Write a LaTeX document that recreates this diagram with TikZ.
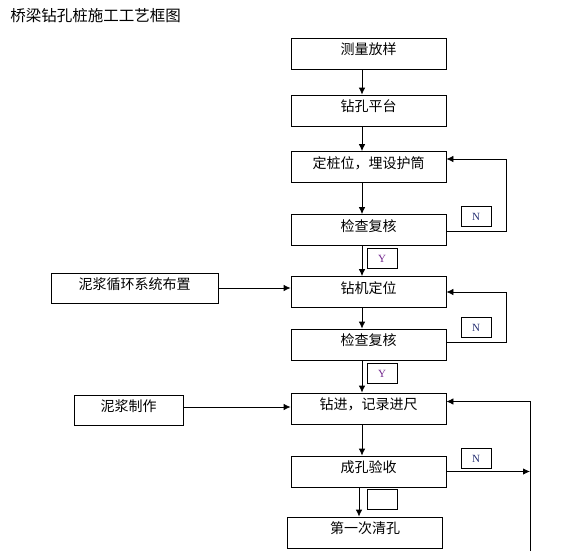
\documentclass[tikz,border=0pt]{standalone}
\usepackage{fontspec}
\setmainfont{Noto Sans CJK SC}
\newfontfamily\tagfont{Liberation Serif}
\usepackage{xcolor}
\usetikzlibrary{calc,arrows.meta}
\definecolor{yescolor}{RGB}{112,36,140}
\definecolor{nocolor}{RGB}{34,44,112}
\tikzstyle{stage}=[draw, minimum width=155pt, minimum height=31pt, inner sep=0pt, text height=10pt, text depth=8pt, font=\fontsize{14}{14}\selectfont]
\tikzstyle{side}=[draw, minimum height=30pt, inner sep=0pt, text height=10pt, text depth=8pt, font=\fontsize{14}{14}\selectfont]
\tikzstyle{tag}=[draw, minimum width=30pt, minimum height=20pt, inner sep=0pt, font=\tagfont\fontsize{11}{11}\selectfont]
\tikzset{flow/.style={-{Latex[length=7pt,width=6.5pt]}, line width=.8pt}}
\tikzset{y=-1pt}
\tikzset{x=1pt}

\begin{document}
\begin{tikzpicture}[line width=.8pt]
  \useasboundingbox (0,0) rectangle (567,551);
  \draw (10,16) node[anchor=west,inner sep=0pt,font=\fontsize{15.5}{15.5}\selectfont] (title) {桥梁钻孔桩施工工艺框图};

  %% main column
  \draw (368.5,53.5) node[stage] (B1) {测量放样};
  \draw (368.5,110.5) node[stage] (B2) {钻孔平台};
  \draw (368.5,167) node[stage] (B3) {定桩位，埋设护筒};
  \draw (368.5,230) node[stage] (B4) {检查复核};
  \draw (368.5,292) node[stage] (B5) {钻机定位};
  \draw (368.5,344.5) node[stage] (B6) {检查复核};
  \draw (368.5,408.5) node[stage] (B7) {钻进，记录进尺};
  \draw (368.5,471.5) node[stage] (B8) {成孔验收};
  \draw (365,532.5) node[stage] (B9) {第一次清孔};

  %% side inputs
  \draw (134.5,288) node[side,minimum width=167pt] (L1) {泥浆循环系统布置};
  \draw (128.5,410.5) node[side,minimum width=109pt] (L2) {泥浆制作};

  %% Y / N tags
  \draw (476,216.5) node[tag,text=nocolor] (N1) {N};
  \draw (382,258.5) node[tag,text=yescolor] (Y1) {Y};
  \draw (476,327.5) node[tag,text=nocolor] (N2) {N};
  \draw (382,373.5) node[tag,text=yescolor] (Y2) {Y};
  \draw (476,458.5) node[tag,text=nocolor] (N3) {N};
  \draw (382,499.5) node[tag] (T3) {};

  \coordinate (axis) at (362,0);
  \coordinate (axisb) at (359,0);
  \coordinate (loop) at (506.7,0);
  \coordinate (back) at (530,0);
  \coordinate (foot) at (530,551);

  %% straight flow
  \draw[flow] (B1.south -| axis) -- (B2.north -| axis);
  \draw[flow] (B2.south -| axis) -- (B3.north -| axis);
  \draw[flow] (B3.south -| axis) -- (B4.north -| axis);
  \draw[flow] (B4.south -| axis) -- (B5.north -| axis);
  \draw[flow] (B5.south -| axis) -- (B6.north -| axis);
  \draw[flow] (B6.south -| axis) -- (B7.north -| axis);
  \draw[flow] (B7.south -| axis) -- (B8.north -| axis);
  \draw[flow] (B8.south -| axisb) -- (B9.north -| axisb);

  \draw[flow] (L1.east) -- (L1.east -| B5.west);
  \draw[flow] ($(L2.east)+(0,-3.5)$) -- ($(L2.east -| B7.west)+(0,-3.5)$);

  %% checks going back
  \draw[flow] ($(B4.east)+(0,1.7)$) -| ($(B3.east -| loop)+(0,-8)$) -- ($(B3.east)+(0,-8)$);
  \draw[flow] ($(B6.east)+(0,-2.5)$) -| (B5.east -| loop) -- (B5.east);
  \draw[flow] (B8.east) -- (B8.east -| back);
  \draw[flow] (foot) -- ($(B7.east -| back)+(0,-7)$) -- ($(B7.east)+(0,-7)$);
\end{tikzpicture}
\end{document}
